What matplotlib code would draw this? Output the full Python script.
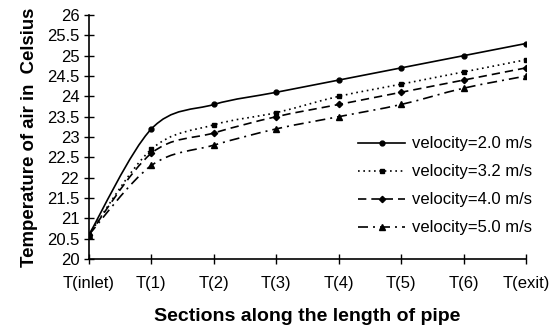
import numpy as np
import matplotlib
matplotlib.use('Agg')
import matplotlib.pyplot as plt
from matplotlib.path import Path
from matplotlib.patches import PathPatch
from matplotlib.lines import Line2D

plt.rcParams['font.family'] = ['Liberation Sans', 'DejaVu Sans']

sections = ['T(inlet)', 'T(1)', 'T(2)', 'T(3)', 'T(4)', 'T(5)', 'T(6)', 'T(exit)']
v20 = [20.6, 23.2, 23.8, 24.1, 24.4, 24.7, 25.0, 25.3]
v32 = [20.6, 22.7, 23.3, 23.6, 24.0, 24.3, 24.6, 24.9]
v40 = [20.6, 22.6, 23.1, 23.5, 23.8, 24.1, 24.4, 24.7]
v50 = [20.6, 22.3, 22.8, 23.2, 23.5, 23.8, 24.2, 24.5]
labels = ['velocity=2.0 m/s', 'velocity=3.2 m/s', 'velocity=4.0 m/s', 'velocity=5.0 m/s']


def smooth_path(x, y):
    # Excel-style smoothed line: cubic bezier with catmull-rom control points
    pts = np.column_stack([x, y]).astype(float)
    n = len(pts)
    verts = [pts[0]]
    codes = [Path.MOVETO]
    for i in range(n - 1):
        p0 = pts[max(i - 1, 0)]
        p1 = pts[i]
        p2 = pts[i + 1]
        p3 = pts[min(i + 2, n - 1)]
        c1 = p1 + (p2 - p0) / 6.0
        c2 = p2 - (p3 - p1) / 6.0
        verts += [c1, c2, p2]
        codes += [Path.CURVE4] * 3
    return Path(verts, codes)


fig = plt.figure(figsize=(5.51, 3.27), dpi=100)
ax = fig.add_axes([0.1615, 0.208, 0.793, 0.746])

x = np.arange(len(sections))
series = [v20, v32, v40, v50]
styles = ['-', (0, (1, 2.2)), (0, (5, 3)), (0, (6, 3, 1.2, 3))]
markers = ['o', 's', 'D', '^']
msizes = [3.5, 3.5, 3.2, 4]

handles = []
for vals, ls, mk, ms, lab in zip(series, styles, markers, msizes, labels):
    ax.add_patch(PathPatch(smooth_path(x, vals), fill=False, edgecolor='black',
                           linestyle=ls, linewidth=1.2))
    ax.plot(x, vals, linestyle='none', marker=mk, markersize=ms, color='black')
    handles.append(Line2D([], [], color='black', linestyle=ls, linewidth=1.2,
                          marker=mk, markersize=ms))

ax.set_xlim(0, len(sections) - 1)
ax.set_ylim(20, 26)
ax.set_yticks(np.arange(20, 26.01, 0.5))
ax.set_yticklabels(['20', '20.5', '21', '21.5', '22', '22.5', '23', '23.5',
                    '24', '24.5', '25', '25.5', '26'])
ax.set_xticks(x)
ax.set_xticklabels(sections)
ax.tick_params(axis='both', direction='inout', length=7, width=1, labelsize=12,
               colors='black')
ax.tick_params(axis='x', pad=9)
ax.tick_params(axis='y', pad=3.5)
ax.spines['top'].set_visible(False)
ax.spines['right'].set_visible(False)
ax.spines['left'].set_linewidth(1.2)
ax.spines['bottom'].set_linewidth(1.2)
ax.spines['left'].set_zorder(0)
ax.spines['bottom'].set_zorder(0)

ax.set_xlabel('Sections along the length of pipe', fontsize=14, fontweight='bold',
              labelpad=12)
ax.set_ylabel('Temperature of air in  Celsius', fontsize=13.4, fontweight='bold',
              labelpad=6)

ax.legend(handles, labels, loc='lower right', bbox_to_anchor=(1.048, 0.035),
          frameon=False, fontsize=12, numpoints=1, handlelength=2.8,
          handletextpad=0.4, labelspacing=0.78)

fig.savefig('out.png', dpi=100)
